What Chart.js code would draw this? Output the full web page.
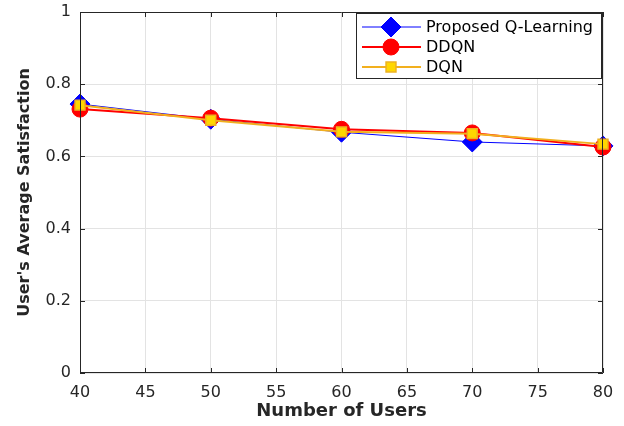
<!DOCTYPE html>
<html>
<head>
<meta charset="utf-8">
<script src="https://cdn.jsdelivr.net/npm/chart.js@4.4.1/dist/chart.umd.min.js"></script>
<style>
    html, body { margin: 0; padding: 0; background: #fff; }
    #wrap { width: 624px; height: 426px; }
</style>
</head>
<body>
<div id="wrap"><canvas id="chart" width="624" height="426"></canvas></div>
<script>
// --- DATA ---
const users = [40, 50, 60, 70, 80];
const qLearning = [0.745, 0.703, 0.667, 0.640, 0.629];
const ddqn = [0.731, 0.706, 0.675, 0.665, 0.626];
const dqn = [0.742, 0.700, 0.668, 0.663, 0.634];
const xTicks = [40, 45, 50, 55, 60, 65, 70, 75, 80];
const yTicks = [0, 0.2, 0.4, 0.6, 0.8, 1];

const FONT = '"DejaVu Sans", "Liberation Sans", Arial, sans-serif';
const INK = '#262626';

function pts(ys) {
    return users.map((x, i) => ({ x: x, y: ys[i] }));
}

// box round the axes + inward ticks, like matlab
const boxPlugin = {
    id: 'box',
    afterDatasetsDraw(chart) {
        const { ctx, chartArea: a, scales } = chart;
        ctx.save();
        ctx.strokeStyle = INK;
        ctx.lineWidth = 1;
        ctx.beginPath();
        ctx.rect(a.left + 0.5, a.top + 0.5, a.right - a.left - 1, a.bottom - a.top - 1);
        xTicks.forEach(v => {
            const px = Math.round(scales.x.getPixelForValue(v)) + 0.5;
            ctx.moveTo(px, a.bottom); ctx.lineTo(px, a.bottom - 5);
            ctx.moveTo(px, a.top); ctx.lineTo(px, a.top + 5);
        });
        yTicks.forEach(v => {
            const py = Math.round(scales.y.getPixelForValue(v)) + 0.5;
            ctx.moveTo(a.left, py); ctx.lineTo(a.left + 5, py);
            ctx.moveTo(a.right, py); ctx.lineTo(a.right - 5, py);
        });
        ctx.stroke();
        ctx.restore();
    }
};

// legend inside the top right corner
const legendPlugin = {
    id: 'boxLegend',
    afterDraw(chart) {
        const { ctx, chartArea: a } = chart;
        const w = 245, h = 65;
        const x0 = a.right - w - 2, y0 = a.top + 1;
        ctx.save();
        ctx.fillStyle = '#fff';
        ctx.fillRect(x0, y0, w, h);
        ctx.strokeStyle = INK;
        ctx.lineWidth = 1;
        ctx.strokeRect(x0 + 0.5, y0 + 0.5, w, h);
        chart.data.datasets.forEach((ds, i) => {
            const cy = y0 + 14 + i * 20;
            ctx.strokeStyle = ds.borderColor;
            ctx.lineWidth = ds.borderWidth;
            ctx.beginPath();
            ctx.moveTo(x0 + 6, cy); ctx.lineTo(x0 + 65, cy);
            ctx.stroke();
            ctx.fillStyle = ds.pointBackgroundColor;
            ctx.strokeStyle = ds.pointBorderColor;
            ctx.lineWidth = ds.pointBorderWidth;
            Chart.helpers.drawPoint(ctx, {
                pointStyle: ds.pointStyle,
                radius: ds.pointRadius,
                borderWidth: ds.pointBorderWidth
            }, x0 + 35, cy);
            ctx.fillStyle = '#000';
            ctx.font = '16px ' + FONT;
            ctx.textBaseline = 'middle';
            ctx.fillText(ds.label, x0 + 70, cy + 1);
        });
        ctx.restore();
    }
};

new Chart(document.getElementById('chart').getContext('2d'), {
    type: 'line',
    data: {
        datasets: [
            {
                label: 'Proposed Q-Learning', data: pts(qLearning), order: 3, clip: false,
                borderColor: '#0000ff', borderWidth: 1,
                pointStyle: 'rectRot', pointRadius: 10,
                pointBackgroundColor: '#0000ff', pointBorderColor: '#0000ff', pointBorderWidth: 1
            },
            {
                label: 'DDQN', data: pts(ddqn), order: 2, clip: false,
                borderColor: '#ff0000', borderWidth: 2,
                pointStyle: 'circle', pointRadius: 8,
                pointBackgroundColor: '#ff0000', pointBorderColor: '#ff0000', pointBorderWidth: 1
            },
            {
                label: 'DQN', data: pts(dqn), order: 1, clip: false,
                borderColor: '#f2b01e', borderWidth: 2,
                pointStyle: 'rect', pointRadius: 7,
                pointBackgroundColor: '#ffd700', pointBorderColor: '#edb120', pointBorderWidth: 1.5
            }
        ]
    },
    options: {
        responsive: false,
        animation: false,
        layout: { padding: { top: 12, right: 21, left: 0, bottom: 0 } },
        plugins: { legend: { display: false }, tooltip: { enabled: false } },
        scales: {
            x: {
                type: 'linear', min: 40, max: 80,
                afterBuildTicks: s => { s.ticks = xTicks.map(v => ({ value: v })); },
                afterFit: s => { s.height = 53; s.paddingLeft = 0; s.paddingRight = 0; },
                grid: { color: '#e3e3e3', tickLength: 0, drawTicks: false },
                border: { display: false },
                ticks: { color: INK, font: { family: FONT, size: 16 }, padding: 10, maxRotation: 0 },
                title: { display: true, text: 'Number of Users', color: INK, padding: { top: 0, bottom: 4 },
                    font: { family: FONT, size: 18, weight: 'bold' } }
            },
            y: {
                min: 0, max: 1,
                afterBuildTicks: s => { s.ticks = yTicks.map(v => ({ value: v })); },
                afterFit: s => { s.width = 80; s.paddingTop = 0; s.paddingBottom = 0; },
                grid: { color: '#e3e3e3', tickLength: 0, drawTicks: false },
                border: { display: false },
                ticks: { color: INK, font: { family: FONT, size: 16 }, padding: 9,
                    callback: v => String(Math.round(v * 10) / 10) },
                title: { display: true, text: "User's Average Satisfaction", color: INK, padding: { top: 15, bottom: 0 },
                    font: { family: FONT, size: 16, weight: 'bold' } }
            }
        }
    },
    plugins: [boxPlugin, legendPlugin]
});
</script>
</body>
</html>
